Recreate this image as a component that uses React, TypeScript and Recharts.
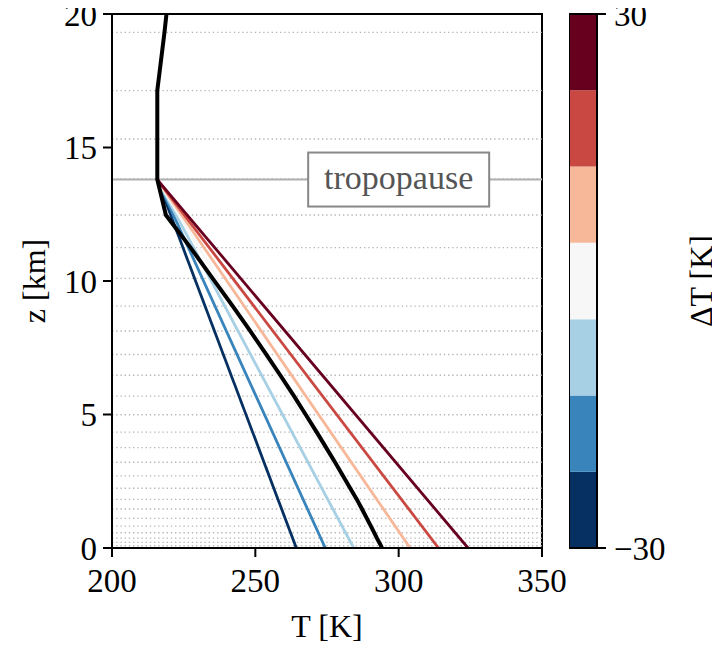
import React from 'react';
import { LineChart, Line, XAxis, YAxis, ReferenceLine, ReferenceArea, ReferenceDot, Label } from 'recharts';

const FONT = '"Liberation Serif", "Times New Roman", serif';

// model levels (km) shown as dotted lines
const levels = [0.02, 0.09, 0.21, 0.37, 0.57, 0.82, 1.11, 1.46, 1.82, 2.24, 2.7, 3.21, 3.76, 4.34, 4.99, 5.69, 6.47, 7.25, 8.13, 9.06, 10.1, 11.25, 12.47, 13.82, 15.32, 17.13, 19.31];

// reference profile (black)
const refZ = [0, 0.09, 0.21, 0.37, 0.57, 0.82, 1.11, 1.46, 1.82, 2.24, 2.7, 3.21, 3.76, 4.34, 4.99, 5.69, 6.47, 7.25, 8.13, 9.06, 10.1, 11.25, 12.47, 13.8, 15.32, 17.13, 19.31, 20];
const refT = [294.2, 293.8, 293.2, 292.4, 291.5, 290.3, 288.9, 287.2, 285.4, 283.1, 280.6, 277.8, 274.7, 271.4, 267.6, 263.5, 258.7, 253.8, 248.2, 242.1, 235.1, 227.4, 218.8, 215.8, 215.8, 215.8, 218.3, 219.0];

// perturbed profiles
const deltas = [-30, -20, -10, 0, 10, 20, 30];
const surfaceT = [264.3, 274.4, 284.3, 294.2, 304.0, 313.9, 324.2];
const tropT = 215.8;
const tropZ = 13.8;
const deltaColors = ['#053061', '#3884bb', '#a7d0e4', '#f7f7f7', '#f7b799', '#ca4842', '#67001f'];

// colorbar
const cbBounds = [-30, -21.43, -12.86, -4.29, 4.29, 12.86, 21.43, 30];
const cbTicks = [-30, 30];

const xTicks = [200, 250, 300, 350];
const yTicks = [0, 5, 10, 15, 20];

const refData = refZ.map((z, i) => ({ z, T: refT[i] }));
const pertData = surfaceT.map((t) => [
  { z: 0, T: t },
  { z: tropZ, T: tropT },
]);

const tickStyle = { fill: '#000', fontSize: 33, fontFamily: FONT };

const TropoBox = (props: any) => {
  const { cx, cy } = props;
  if (cx == null || cy == null) return null;
  return (
    <g>
      <rect x={cx - 90.5} y={cy - 27} width={181} height={54} fill="#fff" stroke="#888" strokeWidth={2} />
      <text x={cx} y={cy + 9} textAnchor="middle" fontSize={34} fontFamily={FONT} fill="#555">
        tropopause
      </text>
    </g>
  );
};

const YLabel = (props: any) => {
  const vb = props.viewBox || {};
  const cy = vb.y + vb.height / 2;
  const x = 45;
  return (
    <text x={x} y={cy} transform={`rotate(-90 ${x} ${cy})`} textAnchor="middle" fontSize={32} fontFamily={FONT} fill="#000">
      z [km]
    </text>
  );
};

const CbLabel = (props: any) => {
  const vb = props.viewBox || {};
  const cy = vb.y + vb.height / 2;
  const x = 143;
  return (
    <text x={x} y={cy} transform={`rotate(-90 ${x} ${cy})`} textAnchor="middle" fontSize={32} fontFamily={FONT} fill="#000">
      ΔT [K]
    </text>
  );
};

const fmtMinus = (v: number) => (v < 0 ? `\u2212${Math.abs(v)}` : `${v}`);

export default function App() {
  return (
    <div style={{ position: 'relative', width: 720, height: 648, margin: '-8px 0 0 -8px', background: '#fff' }}>
      <div style={{ position: 'absolute', left: 0, top: 0 }}>
        <LineChart width={568} height={648} margin={{ top: 14, right: 26, bottom: 0, left: 0 }}>
          <XAxis
            type="number"
            dataKey="T"
            domain={[200, 350]}
            ticks={xTicks}
            interval={0}
            allowDataOverflow
            height={100}
            tickSize={9}
            tickMargin={12}
            tick={tickStyle}
            axisLine={{ stroke: '#000', strokeWidth: 2 }}
            tickLine={{ stroke: '#000', strokeWidth: 2 }}
          >
            <Label value="T [K]" position="insideBottom" offset={11} style={{ fontSize: 32, fontFamily: FONT, fill: '#000' }} />
          </XAxis>
          <YAxis
            type="number"
            dataKey="z"
            domain={[0, 20]}
            ticks={yTicks}
            interval={0}
            allowDataOverflow
            width={112}
            tickSize={9}
            tickMargin={6}
            tick={tickStyle}
            axisLine={{ stroke: '#000', strokeWidth: 2 }}
            tickLine={{ stroke: '#000', strokeWidth: 2 }}
          >
            <Label content={YLabel} />
          </YAxis>
          {levels.map((lv) => (
            <ReferenceLine key={`lv${lv}`} y={lv} stroke="#b8b8b8" strokeWidth={1.4} strokeDasharray="1.4 2.8" />
          ))}
          <ReferenceLine y={tropZ} stroke="#b0b0b0" strokeWidth={2} />
          {pertData.map((d, i) => (
            <Line
              key={`p${deltas[i]}`}
              data={d}
              dataKey="z"
              type="linear"
              stroke={deltaColors[i]}
              strokeWidth={2.8}
              dot={false}
              activeDot={false}
              isAnimationActive={false}
            />
          ))}
          <Line
            data={refData}
            dataKey="z"
            type="linear"
            stroke="#000"
            strokeWidth={4}
            dot={false}
            activeDot={false}
            isAnimationActive={false}
          />
          <ReferenceDot x={300} y={tropZ} r={1} shape={TropoBox} ifOverflow="visible" />
          <ReferenceArea x1={200} x2={350} y1={0} y2={20} fill="none" stroke="#000" strokeWidth={2} ifOverflow="visible" />
        </LineChart>
      </div>
      <div style={{ position: 'absolute', left: 569, top: 0 }}>
        <LineChart width={151} height={648} margin={{ top: 14, right: 0, bottom: 100, left: 0 }} data={[{ x: 0 }, { x: 1 }]}>
          <XAxis type="number" dataKey="x" domain={[0, 1]} hide />
          <YAxis
            type="number"
            orientation="right"
            domain={[-30, 30]}
            ticks={cbTicks}
            interval={0}
            allowDataOverflow
            width={123}
            tickSize={9}
            tickMargin={8}
            tick={tickStyle}
            tickFormatter={fmtMinus}
            axisLine={false}
            tickLine={{ stroke: '#000', strokeWidth: 2 }}
          >
            <Label content={CbLabel} />
          </YAxis>
          {cbBounds.slice(0, -1).map((lo, i) => (
            <ReferenceArea key={`cb${i}`} x1={0} x2={1} y1={lo} y2={cbBounds[i + 1]} fill={deltaColors[i]} fillOpacity={1} stroke="none" />
          ))}
          <ReferenceArea x1={0} x2={1} y1={-30} y2={30} fill="none" stroke="#000" strokeWidth={2} ifOverflow="visible" />
        </LineChart>
      </div>
    </div>
  );
}
